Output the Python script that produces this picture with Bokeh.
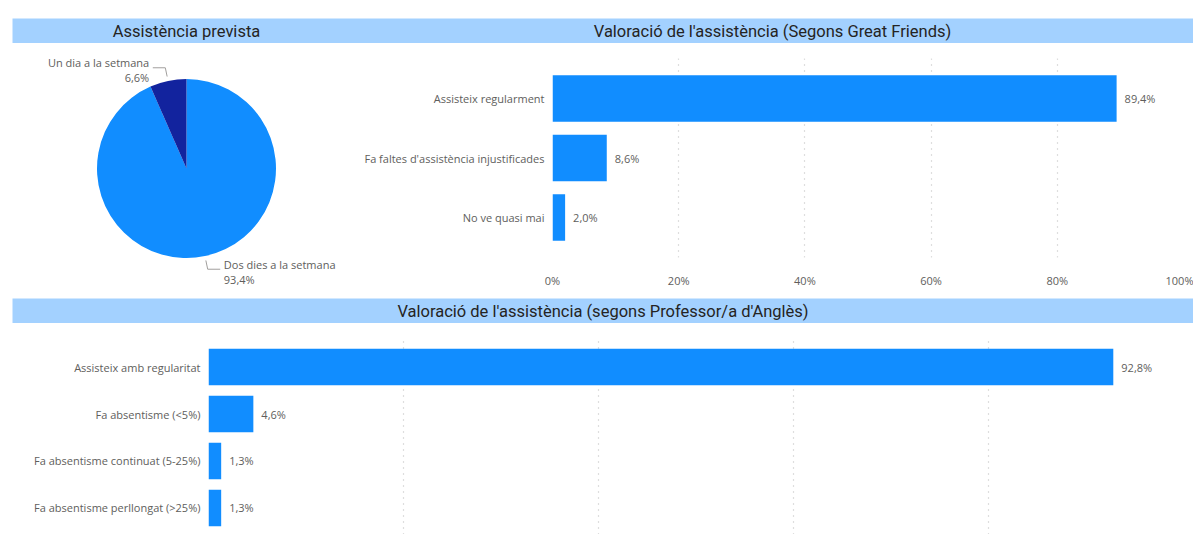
import math
from bokeh.plotting import figure
from bokeh.layouts import column, row
from bokeh.models import Range1d, FactorRange, FixedTicker, Label, ColumnDataSource
from bokeh.core.properties import value
from bokeh.embed import file_html
from bokeh.resources import INLINE

# ---------------- data ----------------
pie_labels = ["Dos dies a la setmana", "Un dia a la setmana"]
pie_values = [93.4, 6.6]
pie_colors = ["#118DFF", "#12239E"]

gf_categories = ["Assisteix regularment", "Fa faltes d'assistència injustificades", "No ve quasi mai"]
gf_values = [89.4, 8.6, 2.0]

prof_categories = ["Assisteix amb regularitat", "Fa absentisme (<5%)",
                   "Fa absentisme continuat (5-25%)", "Fa absentisme perllongat (>25%)"]
prof_values = [92.8, 4.6, 1.3, 1.3]

x_ticks = [0, 20, 40, 60, 80, 100]
x_tick_labels = ["0%", "20%", "40%", "60%", "80%", "100%"]

title_pie = "Assistència prevista"
title_gf = "Valoració de l'assistència (Segons Great Friends)"
title_prof = "Valoració de l'assistència (segons Professor/a d'Anglès)"

# ---------------- style ----------------
BAND = "#A3D1FF"
BAR = "#118DFF"
TITLE_COLOR = "#252423"
LABEL_COLOR = "#605E5C"
GRID_COLOR = "#BDBDBD"
TITLE_FONT = "Roboto"
LABEL_FONT = "Open Sans"


def pct(v):
    return f"{v:.1f}%".replace(".", ",")


def strip(width, height, top, left, texts):
    p = figure(width=width, height=height, title=None,
               x_range=Range1d(0, width - left), y_range=Range1d(0, 1),
               x_axis_type=None, y_axis_type=None,
               toolbar_location=None, output_backend="svg",
               min_border_top=top, min_border_left=left,
               min_border_right=0, min_border_bottom=0,
               background_fill_color=BAND, border_fill_color="white",
               outline_line_color=None)
    p.grid.visible = False
    for txt, xpos in texts:
        p.add_layout(Label(x=xpos, y=0.5, text=txt, text_align="center",
                           text_baseline="middle", text_font=TITLE_FONT,
                           text_font_size="16.5px", text_color=TITLE_COLOR))
    return p


def bar_chart(width, height, cats, vals, left, right, top, bottom, pad, show_x):
    # pad: padding (in category units) added on each end of the factor range
    p = figure(width=width, height=height, title=None,
               y_range=FactorRange(*list(reversed(cats)), range_padding=pad,
                                   range_padding_units="absolute"),
               x_range=Range1d(0, 100),
               toolbar_location=None, output_backend="svg",
               min_border_left=left, min_border_right=right,
               min_border_top=top, min_border_bottom=bottom,
               outline_line_color=None, border_fill_color="white")
    src = ColumnDataSource(dict(cat=cats, val=vals, lab=[pct(v) for v in vals]))
    p.hbar(y="cat", left=0, right="val", height=0.78, source=src,
           fill_color=BAR, line_color=None)
    p.text(x="val", y="cat", text="lab", source=src, x_offset=8,
           text_baseline="middle", text_align="left",
           text_font=value(LABEL_FONT), text_font_size="11px", text_color=LABEL_COLOR)
    p.ygrid.visible = False
    p.xgrid.ticker = FixedTicker(ticks=x_ticks)
    p.xgrid.grid_line_color = GRID_COLOR
    p.xgrid.grid_line_dash = "1 5"
    p.xgrid.grid_line_width = 1.2
    ya = p.yaxis[0]
    ya.axis_line_color = None
    ya.major_tick_line_color = None
    ya.minor_tick_line_color = None
    ya.major_tick_out = 0
    ya.major_tick_in = 0
    ya.major_label_standoff = 8
    ya.major_label_text_font = LABEL_FONT
    ya.major_label_text_font_size = "11px"
    ya.major_label_text_color = LABEL_COLOR
    xa = p.xaxis[0]
    if show_x:
        xa.ticker = FixedTicker(ticks=x_ticks)
        xa.major_label_overrides = dict(zip(x_ticks, x_tick_labels))
        xa.axis_line_color = None
        xa.major_tick_line_color = None
        xa.minor_tick_line_color = None
        xa.major_tick_out = 0
        xa.major_tick_in = 0
        xa.major_label_standoff = 15
        xa.major_label_text_font = LABEL_FONT
        xa.major_label_text_font_size = "11px"
        xa.major_label_text_color = LABEL_COLOR
    else:
        xa.visible = False
    return p


# ---------------- title strip 1 ----------------
strip1 = strip(1193, 43, 18, 12, [(title_pie, 174), (title_gf, 760)])

# ---------------- pie ----------------
R_PX = 89.5
PIE_W, PIE_H = 360, 247
CX, CY = 186.0, 125.0  # centre in figure pixels (from left, from top)
pie = figure(width=PIE_W, height=PIE_H, title=None,
             x_range=Range1d(-CX / R_PX, (PIE_W - CX) / R_PX),
             y_range=Range1d(-(PIE_H - CY) / R_PX, CY / R_PX),
             x_axis_type=None, y_axis_type=None,
             toolbar_location=None, output_backend="svg",
             min_border=0, outline_line_color=None)
pie.grid.visible = False

total = sum(pie_values)
starts, ends, mids = [], [], []
cum = 0.0
for v in pie_values:
    a0 = math.pi / 2 - cum / total * 2 * math.pi
    cum += v
    a1 = math.pi / 2 - cum / total * 2 * math.pi
    starts.append(a0)
    ends.append(a1)
    mids.append((a0 + a1) / 2)

pie.wedge(x=0, y=0, radius=1, start_angle=starts, end_angle=ends,
          direction="clock", fill_color=pie_colors, line_color=None)

xs, ys, tx, ty, aligns, names, pcts = [], [], [], [], [], [], []
for m, lab, v in zip(mids, pie_labels, pie_values):
    c, s = math.cos(m), math.sin(m)
    sign = 1 if c > 0 else -1
    p0 = (1.05 * c, 1.05 * s)
    p1 = (1.15 * c, 1.15 * s)
    p2 = (p1[0] + sign * 0.14, p1[1])
    xs.append([p0[0], p1[0], p2[0]])
    ys.append([p0[1], p1[1], p2[1]])
    tx.append(p2[0] + sign * 0.04)
    ty.append(p1[1])
    aligns.append("left" if sign > 0 else "right")
    names.append(lab)
    pcts.append(pct(v))

pie.multi_line(xs=xs, ys=ys, line_color="#A19F9D", line_width=1)
lsrc = ColumnDataSource(dict(x=tx, y=ty, a=aligns, n=names, p=pcts))
pie.text(x="x", y="y", text="n", text_align="a", source=lsrc, y_offset=-5,
         text_baseline="middle", text_font=value(LABEL_FONT),
         text_font_size="11px", text_color=LABEL_COLOR)
pie.text(x="x", y="y", text="p", text_align="a", source=lsrc, y_offset=10,
         text_baseline="middle", text_font=value(LABEL_FONT),
         text_font_size="11px", text_color=LABEL_COLOR)

# ---------------- bar chart 1 ----------------
gf = bar_chart(833, 247, gf_categories, gf_values,
               left=192, right=10, top=15, bottom=30, pad=0.172, show_x=True)

# ---------------- title strip 2 ----------------
strip2 = strip(1193, 33, 8, 12, [(title_prof, 590.5)])

# ---------------- bar chart 2 ----------------
prof = bar_chart(1193, 211, prof_categories, prof_values,
                 left=208, right=10, top=17, bottom=0, pad=0.064, show_x=False)

# each plot wrapped in its own box so the layout does not align plot frames
layout = column(column(strip1),
                row(column(pie), column(gf), spacing=0),
                column(strip2),
                column(prof),
                spacing=0)

open("out.html", "w").write(file_html(layout, INLINE))
